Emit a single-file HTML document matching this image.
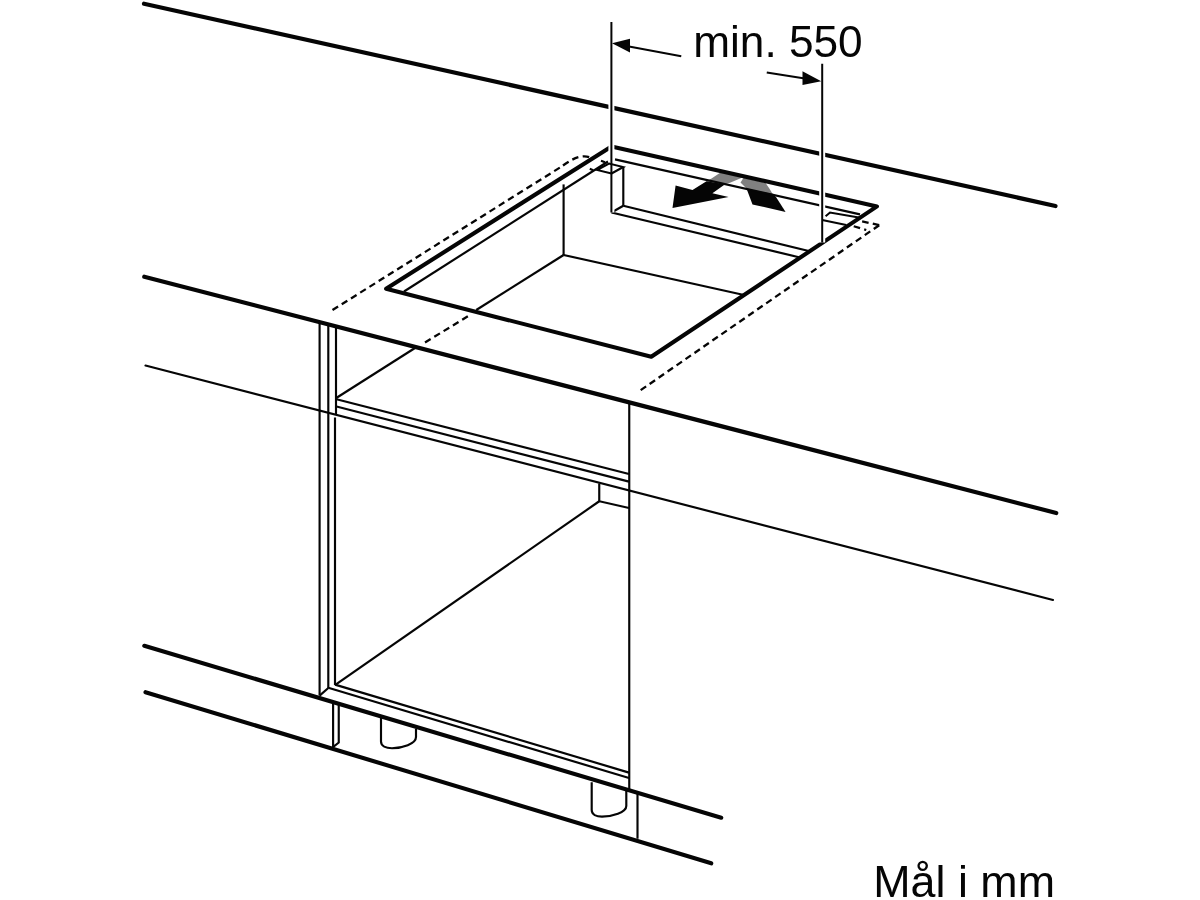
<!DOCTYPE html>
<html><head><meta charset="utf-8">
<style>
html,body{margin:0;padding:0;background:#fff;}
body{width:1200px;height:900px;overflow:hidden;font-family:"Liberation Sans",sans-serif;}
svg{will-change:transform;display:block;position:absolute;left:0;top:0;}
text{font-family:"Liberation Sans",sans-serif;fill:#050505;}
</style></head><body>
<svg width="1200" height="900" viewBox="0 0 1200 900">
<rect width="1200" height="900" fill="#fff"/>
<!-- arrows (curved) -->
<polygon points="706.5,181.2 711.5,178.6 720.5,172.4 742.5,177.4 730,182.7 725.1,184.3" fill="#808080"/>
<polygon points="740.5,182.6 743.6,177.8 765.6,183 769.2,188.3 772.5,193.8 746.5,188.5" fill="#808080"/>
<polygon points="672.5,208.1 675.6,185.6 692.5,190 706.5,181.2 725.1,184.3 712.4,193.3 728.6,197" fill="#050505"/>
<polygon points="746.5,188.5 772.5,193.8 776,197 785.6,212.1 752.5,204.4" fill="#050505"/>
<g fill="none" stroke="#050505" stroke-linecap="round" stroke-linejoin="miter">

<!-- thin lines -->
<g stroke-width="2.15" stroke-linecap="butt">
  <!-- counter front bottom -->
  <line x1="145.5" y1="365.5" x2="1053" y2="600" stroke-linecap="round"/>
  <!-- cabinet left verticals -->
  <line x1="319.6" y1="322" x2="319.6" y2="695.6"/>
  <line x1="328.3" y1="324" x2="328.3" y2="688"/>
  <line x1="336" y1="327" x2="336" y2="414.5"/>
  <line x1="335" y1="417.5" x2="335" y2="685"/>
  <line x1="328.3" y1="688" x2="319.6" y2="695.6"/>
  <!-- cabinet bottom -->
  <line x1="335" y1="684.6" x2="629" y2="772.6"/>
  <line x1="328.3" y1="687.8" x2="629" y2="778"/>
  <!-- right vertical -->
  <line x1="629.25" y1="403" x2="629.25" y2="790"/>
  <!-- shelf -->
  <line x1="336.5" y1="399.2" x2="629" y2="474"/>
  <line x1="336.5" y1="406.5" x2="629" y2="481.6"/>
  <line x1="336.25" y1="398" x2="415" y2="348"/>
  <polyline points="599.25,483.5 599.25,501.25 629,508"/>
  <line x1="599.25" y1="501.25" x2="336" y2="684.4"/>
  <!-- plinth -->
  <polyline points="333.1,703 333.1,747 338.75,742.5 338.75,705"/>
  <line x1="637.5" y1="793.75" x2="637.5" y2="838.75"/>
  <!-- legs -->
  <path d="M381 718 V741.5 C381 746 386 748.2 392 748.2 C402 748.2 416 744 416 737 V728.7"/>
  <path d="M591.7 782.3 V810 C591.7 814.5 596.5 816.6 602 816.6 C612 816.6 626.3 812.5 626.3 806 V790.7"/>
  <!-- cutout inner -->
  <line x1="404" y1="291.5" x2="608" y2="161.5"/>
  <line x1="563.6" y1="184.4" x2="563.6" y2="255"/>
  <line x1="563.6" y1="255" x2="476.25" y2="310"/>
  <line x1="563.6" y1="255" x2="744" y2="295"/>
  <line x1="589.8" y1="168.8" x2="593.2" y2="170.2"/>
  <line x1="601" y1="160.8" x2="605" y2="162.3"/>
  <!-- back bar -->
  <line x1="615" y1="159.4" x2="860" y2="214.4"/>
  <line x1="623.3" y1="167" x2="623.3" y2="205.8"/>
  <line x1="623.3" y1="205.8" x2="808.75" y2="251"/>
  <line x1="611.5" y1="212.5" x2="800" y2="257.5"/>
  <line x1="611.5" y1="212.5" x2="623.3" y2="205.8"/>
</g>

<!-- dashed -->
<g stroke-width="2.3" stroke-linecap="butt" stroke-dasharray="6.6 4.3">
  <line x1="332.5" y1="310" x2="560" y2="167.5"/>
  <path d="M563 165.5 Q580 153 590 157.5"/>
  <line x1="425" y1="342.5" x2="470" y2="315"/>
  <line x1="879.2" y1="225.2" x2="638.75" y2="391.5"/>
  <line x1="879.2" y1="225.2" x2="860" y2="220.8"/>
  <line x1="853.75" y1="226.25" x2="866.25" y2="230"/>
</g>

<!-- thick lines -->
<g stroke-width="4.2">
  <line x1="144" y1="3.7" x2="1055.5" y2="206"/>
  <line x1="144.25" y1="276.75" x2="1056.25" y2="513"/>
</g>
<g stroke-width="4.1" stroke-linejoin="round">
  <line x1="144.25" y1="645.8" x2="721.25" y2="817.7"/>
  <line x1="145.5" y1="692.2" x2="711.25" y2="863.3"/>
  <polygon points="386.1,288.7 611.5,146.5 877,206.4 651.25,356.8"/>
</g>
</g>

<!-- dimension lines with halo -->
<g fill="none" stroke-linecap="butt">
  <line x1="611.4" y1="22" x2="611.4" y2="212.5" stroke="#fff" stroke-width="6"/>
  <line x1="822.2" y1="63.75" x2="822.2" y2="242.5" stroke="#fff" stroke-width="6"/>
  <line x1="611.4" y1="22" x2="611.4" y2="212.5" stroke="#050505" stroke-width="2"/>
  <line x1="822.2" y1="63.75" x2="822.2" y2="242.5" stroke="#050505" stroke-width="2"/>
  <line x1="625" y1="45.7" x2="681.25" y2="56.25" stroke="#050505" stroke-width="2"/>
  <line x1="766.75" y1="72.5" x2="808" y2="79.1" stroke="#050505" stroke-width="2"/>
</g>
<g fill="none" stroke="#050505" stroke-width="2" stroke-linecap="butt"><polyline points="611.5,173.5 597,170 609,163.5 623.3,167 611.5,173.5"/><line x1="822.2" y1="220" x2="846.25" y2="225"/><polyline points="825.6,216.25 830,212.5 858.75,217.5"/></g>
<polygon points="612,43.25 630,38.75 630,52.5" fill="#050505"/>
<polygon points="821.25,81.25 802.5,71.25 802.5,85" fill="#050505"/>

<g style="filter:grayscale(1)"><text x="693.2" y="56.6" font-size="44.2">min. 550</text>
<text x="873.3" y="897.4" font-size="44.8">Mål i mm</text></g>
</svg>
</body></html>
